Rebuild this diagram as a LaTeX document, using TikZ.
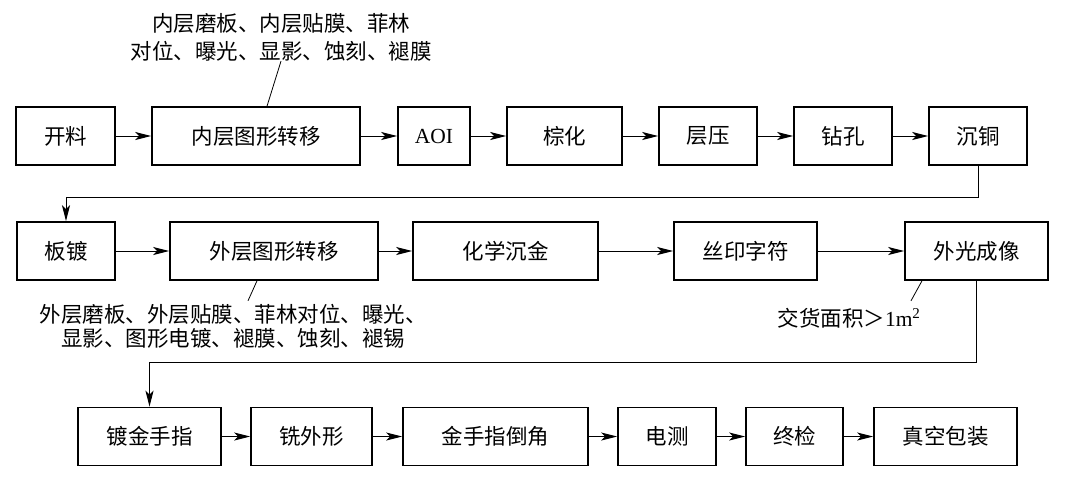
\documentclass[tikz,border=0pt]{standalone}
\usepackage{fontspec}
\setmainfont{Liberation Serif}
\newfontfamily\cjk{Noto Sans CJK SC}
\usetikzlibrary{arrows.meta,calc}
\begin{document}
\begin{tikzpicture}[x=1pt,y=-1pt,>={Stealth[length=16pt,width=8pt,inset=4pt]},
  box/.style={draw,line width=1.6pt,minimum height=58pt,inner sep=0pt,font=\cjk\fontsize{21.5}{24}\selectfont},
  flow/.style={->,line width=1pt},
  note/.style={align=center,inner sep=0pt,font=\cjk\fontsize{21.5}{24}\selectfont},
  lead/.style={line width=.8pt}]
  \useasboundingbox (0,0) rectangle (1079,483);
  \node[box,minimum width=99pt] (kailiao) at (65.5,136) {开料};
  \node[box,minimum width=208pt] (neiceng) at (256,136) {内层图形转移};
  \node[box,minimum width=72pt] (aoi) at (434,136) {\rmfamily AOI};
  \node[box,minimum width=115pt] (zonghua) at (564.5,136) {棕化};
  \node[box,minimum width=98pt] (cengya) at (708,136) {层压};
  \node[box,minimum width=98pt] (zuankong) at (843,136) {钻孔};
  \node[box,minimum width=98pt] (chentong) at (978,136) {沉铜};
  \node[box,minimum width=98pt] (bandu) at (66,251) {板镀};
  \node[box,minimum width=208pt] (waiceng) at (274,251) {外层图形转移};
  \node[box,minimum width=185pt] (chenjin) at (505.5,251) {化学沉金};
  \node[box,minimum width=143pt] (siyin) at (745.5,251) {丝印字符};
  \node[box,minimum width=143pt] (waiguang) at (976.5,251) {外光成像};
  \node[box,minimum width=143pt] (dujin) at (149.5,436.5) {镀金手指};
  \node[box,minimum width=121pt] (xiwai) at (311.5,436.5) {铣外形};
  \node[box,minimum width=185pt] (daojiao) at (495.5,436.5) {金手指倒角};
  \node[box,minimum width=98pt] (dian) at (667,436.5) {电测};
  \node[box,minimum width=97pt] (zhongjian) at (794.5,436.5) {终检};
  \node[box,minimum width=143pt] (baozhuang) at (945.5,436.5) {真空包装};
  \node[note,font=\cjk\fontsize{21.5}{28}\selectfont] (noteA) at (281,37) {内层磨板、内层贴膜、菲林\\对位、曝光、显影、蚀刻、褪膜};
  \node[note] (noteB) at (233,326) {外层磨板、外层贴膜、菲林对位、曝光、\\显影、图形电镀、褪膜、蚀刻、褪锡};
  \node[note] (noteC) at (849,318) {交货面积＞{\rmfamily 1m\textsuperscript{2}}};
  \draw[flow] (kailiao) -- (neiceng);
  \draw[flow] (neiceng) -- (aoi);
  \draw[flow] (aoi) -- (zonghua);
  \draw[flow] (zonghua) -- (cengya);
  \draw[flow] (cengya) -- (zuankong);
  \draw[flow] (zuankong) -- (chentong);
  \draw[flow] (chentong.south) -- ++(0,32) -| (bandu.north);
  \draw[flow] (bandu) -- (waiceng);
  \draw[flow] (waiceng) -- (chenjin);
  \draw[flow] (chenjin) -- (siyin);
  \draw[flow] (siyin) -- (waiguang);
  \draw[flow] (waiguang.south) -- ++(0,82) -| (dujin.north);
  \draw[flow] (dujin) -- (xiwai);
  \draw[flow] (xiwai) -- (daojiao);
  \draw[flow] (daojiao) -- (dian);
  \draw[flow] (dian) -- (zhongjian);
  \draw[flow] (zhongjian) -- (baozhuang);
  \draw[lead] ($(neiceng.north)+(11,0)$) -- (noteA.south);
  \draw[lead] ($(waiceng.south)+(-17,0)$) -- ++(-9,20);
  \draw[lead] ($(waiguang.south)+(-54.5,0)$) -- ++(-11,20);
\end{tikzpicture}
\end{document}
